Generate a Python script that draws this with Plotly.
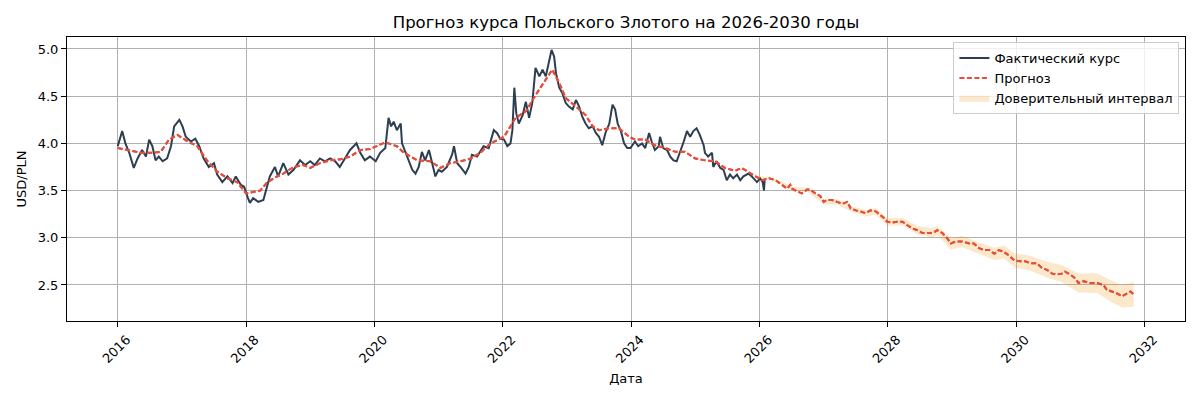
import plotly.graph_objects as go

# ── Data (decimal years, USD/PLN) ─────────────────────────────────────────────
actual_x = [
    2016.00, 2016.07, 2016.12, 2016.18, 2016.25, 2016.31, 2016.38, 2016.44, 2016.49, 2016.54,
    2016.59, 2016.64, 2016.70, 2016.77, 2016.83, 2016.88, 2016.96, 2017.01, 2017.06, 2017.14,
    2017.21, 2017.27, 2017.34, 2017.42, 2017.50, 2017.55, 2017.63, 2017.71, 2017.79, 2017.84,
    2017.92, 2017.97, 2018.03, 2018.06, 2018.11, 2018.19, 2018.27, 2018.32, 2018.37, 2018.45,
    2018.50, 2018.58, 2018.66, 2018.74, 2018.84, 2018.92, 2019.00, 2019.07, 2019.15, 2019.23,
    2019.31, 2019.39, 2019.46, 2019.54, 2019.62, 2019.72, 2019.78, 2019.85, 2019.93, 2020.02,
    2020.09, 2020.17, 2020.22, 2020.26, 2020.30, 2020.35, 2020.41, 2020.43, 2020.48, 2020.53,
    2020.59, 2020.64, 2020.69, 2020.74, 2020.79, 2020.85, 2020.90, 2020.95, 2021.00, 2021.05,
    2021.13, 2021.21, 2021.24, 2021.29, 2021.34, 2021.42, 2021.47, 2021.52, 2021.60, 2021.65,
    2021.70, 2021.78, 2021.86, 2021.91, 2021.96, 2022.02, 2022.07, 2022.12, 2022.15, 2022.18,
    2022.21, 2022.25, 2022.31, 2022.36, 2022.41, 2022.46, 2022.51, 2022.57, 2022.62, 2022.67,
    2022.72, 2022.76, 2022.80, 2022.83, 2022.88, 2022.93, 2022.98, 2023.03, 2023.09, 2023.14,
    2023.19, 2023.24, 2023.29, 2023.34, 2023.40, 2023.45, 2023.50, 2023.55, 2023.60, 2023.66,
    2023.71, 2023.75, 2023.79, 2023.84, 2023.89, 2023.94, 2023.99, 2024.06, 2024.11, 2024.17,
    2024.22, 2024.28, 2024.32, 2024.37, 2024.43, 2024.45, 2024.50, 2024.56, 2024.61, 2024.66,
    2024.71, 2024.76, 2024.82, 2024.87, 2024.92, 2024.97, 2025.02, 2025.07, 2025.13, 2025.15,
    2025.20, 2025.26, 2025.28, 2025.33, 2025.39, 2025.44, 2025.49, 2025.54, 2025.59, 2025.65,
    2025.70, 2025.75, 2025.83, 2025.88, 2025.96, 2026.01, 2026.05, 2026.07, 2026.08,
]
actual_y = [
    3.97, 4.13, 4.00, 3.90, 3.74, 3.84, 3.93, 3.86, 4.04, 3.97,
    3.82, 3.86, 3.81, 3.84, 3.97, 4.18, 4.25, 4.18, 4.07, 4.02,
    4.05, 3.97, 3.84, 3.75, 3.79, 3.67, 3.59, 3.65, 3.58, 3.65,
    3.56, 3.54, 3.42, 3.37, 3.42, 3.38, 3.40, 3.54, 3.65, 3.75,
    3.65, 3.79, 3.67, 3.72, 3.82, 3.77, 3.81, 3.77, 3.84, 3.81,
    3.84, 3.81, 3.75, 3.84, 3.93, 4.00, 3.90, 3.82, 3.86, 3.81,
    3.90, 3.95, 4.27, 4.18, 4.23, 4.14, 4.21, 4.00, 3.91, 3.84,
    3.72, 3.68, 3.75, 3.91, 3.82, 3.93, 3.79, 3.65, 3.72, 3.70,
    3.75, 3.88, 3.97, 3.79, 3.75, 3.68, 3.75, 3.88, 3.86, 3.91,
    3.97, 3.95, 4.14, 4.11, 4.05, 4.04, 3.97, 4.00, 4.14, 4.59,
    4.32, 4.21, 4.30, 4.44, 4.27, 4.43, 4.80, 4.71, 4.78, 4.71,
    4.85, 4.99, 4.92, 4.74, 4.59, 4.53, 4.43, 4.39, 4.36, 4.46,
    4.39, 4.28, 4.21, 4.16, 4.18, 4.11, 4.07, 3.98, 4.11, 4.21,
    4.41, 4.36, 4.21, 4.13, 4.00, 3.95, 3.95, 4.02, 3.97, 4.00,
    3.95, 4.11, 4.02, 3.93, 3.97, 4.07, 3.95, 3.93, 3.86, 3.82,
    3.81, 3.90, 4.02, 4.13, 4.07, 4.13, 4.16, 4.09, 3.98, 3.90,
    3.86, 3.90, 3.75, 3.81, 3.74, 3.72, 3.61, 3.67, 3.63, 3.67,
    3.61, 3.65, 3.68, 3.65, 3.59, 3.63, 3.59, 3.50, 3.61,
]

forecast_x = [
    2016.00, 2016.14, 2016.36, 2016.51, 2016.67, 2016.80, 2016.93, 2017.09, 2017.24, 2017.40,
    2017.55, 2017.71, 2017.86, 2018.00, 2018.22, 2018.32, 2018.43, 2018.58, 2018.74, 2018.89,
    2019.00, 2019.15, 2019.31, 2019.46, 2019.62, 2019.78, 2019.93, 2020.17, 2020.35, 2020.46,
    2020.67, 2020.87, 2021.03, 2021.18, 2021.34, 2021.50, 2021.65, 2021.81, 2022.02, 2022.20,
    2022.36, 2022.51, 2022.67, 2022.77, 2022.88, 2022.98, 2023.14, 2023.29, 2023.40, 2023.50,
    2023.66, 2023.81, 2023.97, 2024.06, 2024.22, 2024.37, 2024.53, 2024.69, 2024.84, 2025.00,
    2025.15, 2025.31, 2025.46, 2025.62, 2025.72, 2025.88, 2025.94, 2026.04, 2026.15, 2026.25,
    2026.35, 2026.43, 2026.48, 2026.51, 2026.59, 2026.66, 2026.74, 2026.79, 2026.87, 2026.95,
    2027.00, 2027.05, 2027.13, 2027.21, 2027.29, 2027.37, 2027.42, 2027.50, 2027.57, 2027.65,
    2027.73, 2027.81, 2027.88, 2027.94, 2027.99, 2028.07, 2028.14, 2028.23, 2028.31, 2028.38,
    2028.46, 2028.54, 2028.62, 2028.70, 2028.77, 2028.85, 2028.93, 2028.98, 2029.06, 2029.16,
    2029.27, 2029.34, 2029.42, 2029.50, 2029.58, 2029.66, 2029.73, 2029.81, 2029.89, 2029.97,
    2030.06, 2030.14, 2030.22, 2030.32, 2030.40, 2030.48, 2030.56, 2030.63, 2030.71, 2030.76,
    2030.84, 2030.92, 2030.97, 2031.05, 2031.15, 2031.26, 2031.36, 2031.41, 2031.49, 2031.57,
    2031.65, 2031.72, 2031.78, 2031.83,
]
forecast_y = [
    3.95, 3.93, 3.90, 3.90, 3.91, 4.04, 4.09, 4.02, 3.97, 3.81,
    3.70, 3.63, 3.59, 3.47, 3.50, 3.58, 3.63, 3.68, 3.75, 3.77,
    3.74, 3.79, 3.82, 3.83, 3.86, 3.93, 3.94, 4.01, 3.97, 3.90,
    3.82, 3.81, 3.74, 3.79, 3.81, 3.84, 3.90, 4.00, 4.07, 4.27,
    4.34, 4.51, 4.67, 4.78, 4.64, 4.48, 4.39, 4.30, 4.18, 4.14,
    4.16, 4.16, 4.07, 4.04, 4.04, 3.98, 3.95, 3.91, 3.91, 3.84,
    3.82, 3.81, 3.74, 3.71, 3.74, 3.68, 3.65, 3.61, 3.63, 3.61,
    3.56, 3.52, 3.56, 3.52, 3.49, 3.47, 3.51, 3.51, 3.47, 3.44,
    3.38, 3.40, 3.40, 3.38, 3.36, 3.38, 3.31, 3.29, 3.28, 3.26,
    3.29, 3.28, 3.24, 3.21, 3.17, 3.16, 3.17, 3.17, 3.13, 3.10,
    3.08, 3.05, 3.05, 3.05, 3.08, 3.05, 2.99, 2.94, 2.96, 2.96,
    2.94, 2.94, 2.89, 2.87, 2.87, 2.83, 2.87, 2.85, 2.81, 2.76,
    2.75, 2.75, 2.73, 2.73, 2.68, 2.66, 2.62, 2.61, 2.62, 2.64,
    2.61, 2.57, 2.52, 2.54, 2.52, 2.52, 2.50, 2.45, 2.43, 2.41,
    2.38, 2.41, 2.43, 2.40,
]

band_x = [
    2025.94, 2026.25, 2026.51, 2026.74, 2027.00, 2027.21, 2027.42, 2027.65, 2027.81, 2027.99,
    2028.23, 2028.46, 2028.70, 2028.77, 2028.98, 2029.16, 2029.42, 2029.66, 2029.81, 2029.97,
    2030.22, 2030.48, 2030.71, 2030.97, 2031.26, 2031.49, 2031.65, 2031.83,
]
band_lower = [
    3.640, 3.595, 3.500, 3.490, 3.355, 3.350, 3.280, 3.225, 3.245, 3.130,
    3.130, 3.035, 3.000, 3.030, 2.875, 2.900, 2.830, 2.765, 2.780, 2.685,
    2.650, 2.575, 2.530, 2.420, 2.415, 2.315, 2.260, 2.270,
]
band_upper = [
    3.660, 3.625, 3.540, 3.530, 3.405, 3.410, 3.340, 3.295, 3.315, 3.210,
    3.210, 3.125, 3.100, 3.130, 2.995, 3.020, 2.950, 2.895, 2.920, 2.835,
    2.810, 2.745, 2.710, 2.620, 2.625, 2.545, 2.500, 2.530,
]

year_ticks = [2016, 2018, 2020, 2022, 2024, 2026, 2028, 2030, 2032]
value_ticks = [2.5, 3.0, 3.5, 4.0, 4.5, 5.0]

FONT = 'DejaVu Sans, sans-serif'
COLOR_ACTUAL = '#2c3e50'
COLOR_FORECAST = '#e74c3c'
COLOR_BAND = 'rgba(243, 156, 18, 0.22)'

fig = go.Figure()

fig.add_trace(go.Scatter(
    x=actual_x, y=actual_y, mode='lines',
    line=dict(color=COLOR_ACTUAL, width=2),
    name='Фактический курс',
))
fig.add_trace(go.Scatter(
    x=forecast_x, y=forecast_y, mode='lines',
    line=dict(color=COLOR_FORECAST, width=2, dash='5px,2.5px'),
    name='Прогноз',
))

# Confidence band (lower edge, then upper filled down to it)
fig.add_trace(go.Scatter(
    x=band_x, y=band_lower, mode='lines',
    line=dict(width=0, color=COLOR_BAND),
    showlegend=False, hoverinfo='skip',
))
fig.add_trace(go.Scatter(
    x=band_x, y=band_upper, mode='lines',
    line=dict(width=0, color=COLOR_BAND),
    fill='tonexty', fillcolor=COLOR_BAND,
    name='Доверительный интервал',
))

# forecast redrawn on top of the band
fig.add_trace(go.Scatter(
    x=forecast_x, y=forecast_y, mode='lines',
    line=dict(color=COLOR_FORECAST, width=2, dash='5px,2.5px'),
    showlegend=False, hoverinfo='skip',
))

# page body has an 8px margin -> figure is 8px smaller and margins shifted
fig.update_layout(
    width=1192, height=392,
    title=dict(
        text='Прогноз курса Польского Злотого на 2026-2030 годы',
        font=dict(family=FONT, size=16.5, color='black'),
        x=0.5, xref='paper', xanchor='center',
        y=0.964, yref='container', yanchor='middle',
    ),
    font=dict(family=FONT, size=13, color='black'),
    plot_bgcolor='white',
    paper_bgcolor='white',
    margin=dict(l=59, r=15, t=29, b=79),
    legend=dict(
        x=0.995, xanchor='right',
        y=0.982, yanchor='top',
        traceorder='normal',
        bgcolor='rgba(255,255,255,0.8)',
        bordercolor='#cccccc', borderwidth=1,
        font=dict(family=FONT, size=13),
        tracegroupgap=0,
    ),
)

fig.update_xaxes(
    range=[2015.21, 2032.63],
    tickvals=year_ticks,
    ticktext=[str(y) for y in year_ticks],
    tickangle=-45,
    ticklabelshift=9,
    ticks='outside', ticklen=5, tickcolor='black',
    showgrid=True, gridcolor='#b0b0b0', gridwidth=1,
    showline=True, linecolor='black', linewidth=1, mirror=True,
    zeroline=False,
    title=dict(text='Дата', font=dict(family=FONT, size=13), standoff=8),
)
fig.update_yaxes(
    range=[2.118, 5.127],
    tickvals=value_ticks,
    tickformat='.1f',
    ticks='outside', ticklen=5, tickcolor='black',
    showgrid=True, gridcolor='#b0b0b0', gridwidth=1,
    showline=True, linecolor='black', linewidth=1, mirror=True,
    zeroline=False,
    title=dict(text='USD/PLN', font=dict(family=FONT, size=13), standoff=8),
)

fig.write_html('out.html')
